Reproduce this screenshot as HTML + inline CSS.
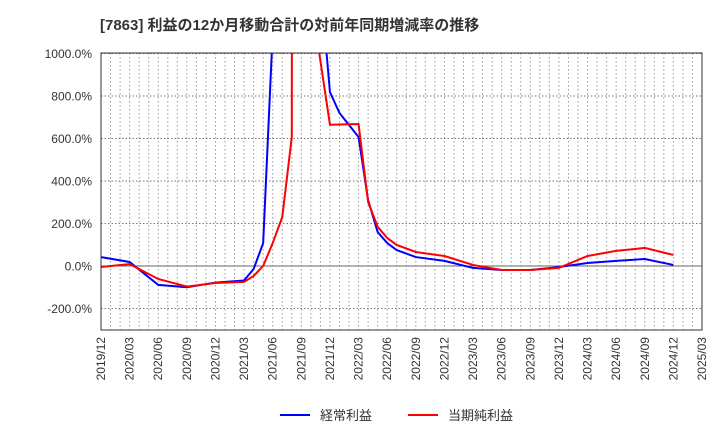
<!DOCTYPE html>
<html><head><meta charset="utf-8"><style>
body{margin:0;background:#fff;}
svg text{font-family:"Liberation Sans","Noto Sans CJK JP",sans-serif;}
</style></head><body>
<svg width="720" height="440" viewBox="0 0 720 440" xmlns="http://www.w3.org/2000/svg">
<text x="100" y="30" font-size="15" font-weight="bold" fill="#333">[7863]  利益の12か月移動合計の対前年同期増減率の推移</text>
<defs><clipPath id="pc"><rect x="101" y="53" width="601" height="277"/></clipPath></defs>
<g id="grid"></g>
<g id="series" clip-path="url(#pc)"></g>
<rect x="101" y="53" width="601" height="277" fill="none" stroke="#333" stroke-width="1"/>
<g id="labels"></g>
<line x1="280" y1="415" x2="310" y2="415" stroke="#0000ff" stroke-width="2"/>
<text x="320" y="420" font-size="13" fill="#333">経常利益</text>
<line x1="408" y1="415" x2="438" y2="415" stroke="#ff0000" stroke-width="2"/>
<text x="448" y="420" font-size="13" fill="#333">当期純利益</text>
</svg>
<script>
const yTicks=[1000,800,600,400,200,0,-200];
const xTickLabels=["2019/12","2020/03","2020/06","2020/09","2020/12","2021/03","2021/06","2021/09","2021/12","2022/03","2022/06","2022/09","2022/12","2023/03","2023/06","2023/09","2023/12","2024/03","2024/06","2024/09","2024/12","2025/03"];
const blueMonths=[0,3,6,9,12,15,16,17,18,20,23.55,24,25,27,28,29,30,31,33,36,39,42,45,48,51,54,57,60];
const blueValues=[42,19,-89,-100,-78,-68,-14,108,1100,3000,1050,818,720,607,310,160,108,75,42,24,-9,-19,-19,-5,14,24,33,5];
const redMonths=[0,3,6,9,12,15,16,17,18,19,20,20.05,22.75,22.85,24,27,28,29,30,31,33,36,39,42,45,48,51,54,57,60];
const redValues=[-5,9,-61,-97,-80,-75,-47,0,108,230,607,3000,3000,1010,665,668,301,184,132,99,66,47,5,-19,-19,-9,47,71,85,52];
const NS="http://www.w3.org/2000/svg";
const x0=101,pxPerMonth=601/63;
function xs(m){return x0+m*pxPerMonth;}
function ys(v){return 266-v*0.2125;}
const grid=document.getElementById('grid'),lab=document.getElementById('labels'),ser=document.getElementById('series');
for(let m=1;m<63;m++){
 const l=document.createElementNS(NS,'line');
 
 
 l.setAttribute('x1',xs(m));l.setAttribute('x2',xs(m));l.setAttribute('y1',53);l.setAttribute('y2',330);
 l.setAttribute('stroke','#999');l.setAttribute('stroke-dasharray','1.5,2.5');l.setAttribute('stroke-width','1');
 grid.appendChild(l);
}
yTicks.forEach(v=>{
 const l=document.createElementNS(NS,'line');
 
 
 l.setAttribute('x1',101);l.setAttribute('x2',702);l.setAttribute('y1',ys(v));l.setAttribute('y2',ys(v));
 l.setAttribute('stroke',v===0?'#666':'#777');
 if(v!==0)l.setAttribute('stroke-dasharray','1.5,2');
 grid.appendChild(l);
 const t=document.createElementNS(NS,'text');
 
 
 t.setAttribute('x',92);t.setAttribute('y',ys(v)+4.5);t.setAttribute('text-anchor','end');
 t.setAttribute('font-size','12');t.setAttribute('fill','#333');
 t.textContent=v.toFixed(1)+'%';lab.appendChild(t);
});
xTickLabels.forEach((s,i)=>{
 const x=xs(i*3);
 const t=document.createElementNS(NS,'text');
 
 
 t.setAttribute('transform','translate('+(x+4)+',337) rotate(-90)');
 t.setAttribute('text-anchor','end');t.setAttribute('font-size','12');t.setAttribute('fill','#333');
 t.textContent=s;lab.appendChild(t);
});
function line(ms,vs,color,name){
 const p=document.createElementNS(NS,'polyline');
 
 
 p.setAttribute('points',ms.map((m,i)=>xs(m)+','+ys(vs[i])).join(' '));
 p.setAttribute('fill','none');p.setAttribute('stroke',color);p.setAttribute('stroke-width','2');
 ser.appendChild(p);
}
line(blueMonths,blueValues,'#0000ff','series-keijo-rieki');
line(redMonths,redValues,'#ff0000','series-touki-junrieki');
</script>
</body></html>
